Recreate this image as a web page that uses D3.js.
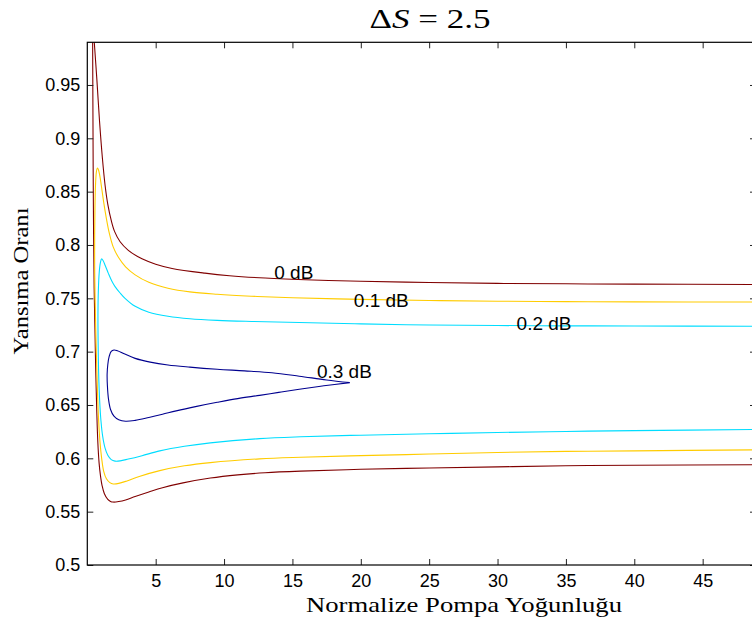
<!DOCTYPE html>
<html>
<head>
<meta charset="utf-8">
<script src="https://cdn.jsdelivr.net/npm/d3@7/dist/d3.min.js"></script>
<style>
  html, body { margin: 0; padding: 0; background: #fff; }
  svg { display: block; }
</style>
</head>
<body>
<svg id="chart" width="752" height="628"></svg>
<script>
// ---------------- data ----------------
const xTicks = [5, 10, 15, 20, 25, 30, 35, 40, 45];
const xTickLabels = ["5", "10", "15", "20", "25", "30", "35", "40", "45"];
const yTicks = [0.5, 0.55, 0.6, 0.65, 0.7, 0.75, 0.8, 0.85, 0.9, 0.95];
const yTickLabels = ["0.5", "0.55", "0.6", "0.65", "0.7", "0.75", "0.8", "0.85", "0.9", "0.95"];
const xDomain = [0, 48.9];
const yDomain = [0.5, 0.99];

const levels = ["0 dB", "0.1 dB", "0.2 dB", "0.3 dB"];
const levelColors = ["#800000", "#FFCC00", "#00DDFF", "#00008F"];

// 0 dB contour: two branches leaving through the top edge
const dB0_upper = [[0.51,0.99],[0.7,0.955],[0.9,0.915],[1.1,0.882],[1.3,0.856],[1.5,0.838],[1.75,0.823],[2.0,0.8125],[2.4,0.803],[3.0,0.795],[4.0,0.787],[5.0,0.782],[6.2,0.778],[8.6,0.7736],[10.4,0.7712],[13,0.769],[16.5,0.7672],[20,0.766],[25,0.7648],[30,0.764],[35,0.7636],[40,0.7633],[48.9,0.763]];
const dB0_lower = [[0.39,0.99],[0.41,0.93],[0.43,0.87],[0.46,0.81],[0.5,0.76],[0.56,0.72],[0.62,0.68],[0.69,0.645],[0.77,0.615],[0.86,0.596],[0.96,0.584],[1.08,0.5745],[1.25,0.5668],[1.5,0.5615],[1.7,0.5596],[1.9,0.559],[2.3,0.5595],[2.8,0.561],[3.5,0.5642],[4.5,0.5685],[5.5,0.5725],[7.0,0.577],[9.0,0.5815],[11,0.5845],[13,0.5865],[15.6,0.588],[20,0.5897],[25,0.591],[30,0.592],[35,0.593],[40,0.5935],[48.9,0.594]];

// 0.1 dB contour: left/lower branch (from the peak) and right/upper branch (from the peak)
const dB01_upper = [[0.73,0.872],[0.8,0.871],[0.9,0.866],[1.0,0.858],[1.2,0.84],[1.4,0.8245],[1.6,0.8115],[1.9,0.798],[2.3,0.788],[2.8,0.7795],[3.5,0.772],[4.5,0.765],[5.9,0.7595],[7.5,0.756],[9.5,0.7538],[12,0.752],[15,0.7505],[20,0.749],[25,0.748],[30,0.7473],[35,0.7469],[40,0.7467],[48.9,0.7465]];
const dB01_lower = [[0.73,0.872],[0.66,0.868],[0.6,0.856],[0.56,0.835],[0.54,0.81],[0.54,0.78],[0.57,0.75],[0.62,0.72],[0.68,0.69],[0.75,0.66],[0.83,0.635],[0.93,0.615],[1.05,0.6],[1.2,0.5878],[1.4,0.5808],[1.65,0.5772],[1.9,0.576],[2.3,0.5765],[2.9,0.5788],[3.8,0.583],[5.3,0.5885],[7.1,0.593],[9.0,0.596],[12.6,0.5995],[15.6,0.601],[20,0.6025],[25,0.604],[30,0.6055],[35,0.6065],[40,0.607],[48.9,0.608]];

// 0.2 dB contour
const dB02_upper = [[1.05,0.787],[1.15,0.7855],[1.3,0.781],[1.54,0.7734],[1.8,0.766],[2.03,0.761],[2.4,0.755],[2.76,0.750],[3.5,0.7425],[4.5,0.737],[5.9,0.7332],[7.5,0.7308],[9.5,0.7293],[12,0.7283],[15.5,0.7273],[20,0.726],[25,0.725],[30,0.7245],[35,0.7242],[40,0.724],[48.9,0.7238]];
const dB02_lower = [[1.05,0.787],[0.95,0.783],[0.87,0.774],[0.81,0.758],[0.78,0.735],[0.79,0.71],[0.83,0.68],[0.9,0.655],[1.0,0.635],[1.12,0.621],[1.3,0.6095],[1.5,0.6028],[1.75,0.5988],[2.03,0.5974],[2.4,0.5976],[3.0,0.5993],[4.0,0.6025],[5.3,0.607],[7.1,0.6113],[9.0,0.6145],[12.6,0.6185],[15.6,0.6202],[20,0.6217],[25,0.623],[30,0.6242],[35,0.6252],[40,0.626],[48.9,0.627]];

// 0.3 dB closed loop, starting and ending at its right-hand tip
const dB03_loop = [[19.2,0.671],[17.5,0.6735],[15.5,0.677],[13.5,0.6802],[11.5,0.682],[9.5,0.6835],[7.5,0.6855],[5.9,0.6875],[4.6,0.6902],[3.5,0.6937],[2.7,0.698],[2.2,0.7008],[1.95,0.7015],[1.75,0.7002],[1.6,0.6955],[1.5,0.688],[1.45,0.679],[1.47,0.668],[1.55,0.6555],[1.7,0.6458],[1.95,0.6395],[2.3,0.6362],[2.8,0.6348],[3.5,0.6356],[4.5,0.6383],[5.5,0.6413],[6.5,0.6445],[8,0.6487],[9.5,0.6525],[11,0.656],[12.6,0.659],[14,0.6618],[15.5,0.6648],[17.3,0.668],[19.2,0.671]];

// contour label anchors (data coordinates)
const labelX = [15.1, 21.5, 33.4, 18.8];
const labelY = [0.7746, 0.7484, 0.7268, 0.6818];

// ---------------- chart ----------------
const mLeft = 87.3, mRight = 756, mTop = 42.3, mBottom = 565;
const svg = d3.select("#chart");

const x = d3.scaleLinear().domain(xDomain).range([mLeft, mRight]);
const y = d3.scaleLinear().domain(yDomain).range([mBottom, mTop]);

svg.append("defs").append("clipPath").attr("id", "plotClip")
  .append("rect").attr("x", mLeft).attr("y", mTop)
  .attr("width", mRight - mLeft).attr("height", mBottom - mTop);

const line = d3.line().x(d => x(d[0])).y(d => y(d[1]))
  .curve(d3.curveCatmullRom.alpha(0.5));

// join the two halves of the 0.1 and 0.2 dB contours through their peaks
const joinAtPeak = (lower, upper) => lower.slice().reverse().concat(upper.slice(1));

const series = [
  { data: dB0_upper, c: 0 }, { data: dB0_lower, c: 0 },
  { data: joinAtPeak(dB01_lower, dB01_upper), c: 1 },
  { data: joinAtPeak(dB02_lower, dB02_upper), c: 2 },
  { data: dB03_loop, c: 3 }
];

const plot = svg.append("g").attr("clip-path", "url(#plotClip)");
plot.selectAll("path.contour").data(series).join("path")
  .attr("class", "contour")
  .attr("d", d => line(d.data))
  .attr("fill", "none")
  .attr("stroke", d => levelColors[d.c])
  .attr("stroke-width", 1.1)
  .attr("stroke-linejoin", "round");

// axes (ticks inward)
const tickFont = "'Liberation Sans', Arial, sans-serif";
const gx = svg.append("g").attr("transform", `translate(0,${mBottom})`)
  .call(d3.axisBottom(x).tickValues(xTicks).tickFormat((d, i) => xTickLabels[i])
    .tickSizeInner(-6).tickSizeOuter(0).tickPadding(9));
const gy = svg.append("g").attr("transform", `translate(${mLeft},0)`)
  .call(d3.axisLeft(y).tickValues(yTicks).tickFormat((d, i) => yTickLabels[i])
    .tickSizeInner(-6).tickSizeOuter(0).tickPadding(7));
const gt = svg.append("g").attr("transform", `translate(0,${mTop})`)
  .call(d3.axisTop(x).tickValues(xTicks).tickFormat("").tickSizeInner(-6).tickSizeOuter(0));
const gr = svg.append("g").attr("transform", `translate(${mRight},0)`)
  .call(d3.axisRight(y).tickValues(yTicks).tickFormat("").tickSizeInner(-6).tickSizeOuter(0));

[gx, gy, gt, gr].forEach(g => {
  g.select(".domain").remove();
  g.selectAll(".tick line").attr("stroke", "#222").attr("stroke-width", 1);
  g.selectAll(".tick text").attr("font-family", tickFont).attr("font-size", 18).attr("fill", "#000");
});

// box
svg.append("rect").attr("x", mLeft).attr("y", mTop)
  .attr("width", mRight - mLeft).attr("height", mBottom - mTop)
  .attr("fill", "none").attr("stroke", "#000").attr("stroke-width", 1.2);

// contour labels
svg.append("g").selectAll("text").data(levels).join("text")
  .attr("x", (d, i) => x(labelX[i]))
  .attr("y", (d, i) => y(labelY[i]))
  .attr("text-anchor", "middle")
  .attr("dominant-baseline", "central")
  .attr("font-family", tickFont)
  .attr("font-size", 19)
  .attr("fill", "#000")
  .text(d => d);

// title: ΔS = 2.5 (math style)
const serif = "'Liberation Serif', 'DejaVu Serif', serif";
const title = svg.append("text").attr("x", 430).attr("y", 28)
  .attr("text-anchor", "middle").attr("font-family", serif).attr("font-size", 27).attr("fill", "#000")
  .attr("textLength", 121).attr("lengthAdjust", "spacingAndGlyphs");
title.append("tspan").text("Δ");
title.append("tspan").attr("font-style", "italic").text("S");
title.append("tspan").text(" = 2.5");

// axis labels (wide serif, as in the reference)
svg.append("text").attr("x", 464).attr("y", 612)
  .attr("text-anchor", "middle").attr("font-family", serif).attr("font-size", 21).attr("fill", "#000")
  .attr("textLength", 316).attr("lengthAdjust", "spacingAndGlyphs")
  .text("Normalize Pompa Yoğunluğu");
svg.append("text").attr("transform", "translate(28,281) rotate(-90)")
  .attr("text-anchor", "middle").attr("font-family", serif).attr("font-size", 21).attr("fill", "#000")
  .attr("textLength", 147).attr("lengthAdjust", "spacingAndGlyphs")
  .text("Yansıma Oranı");
</script>
</body>
</html>
